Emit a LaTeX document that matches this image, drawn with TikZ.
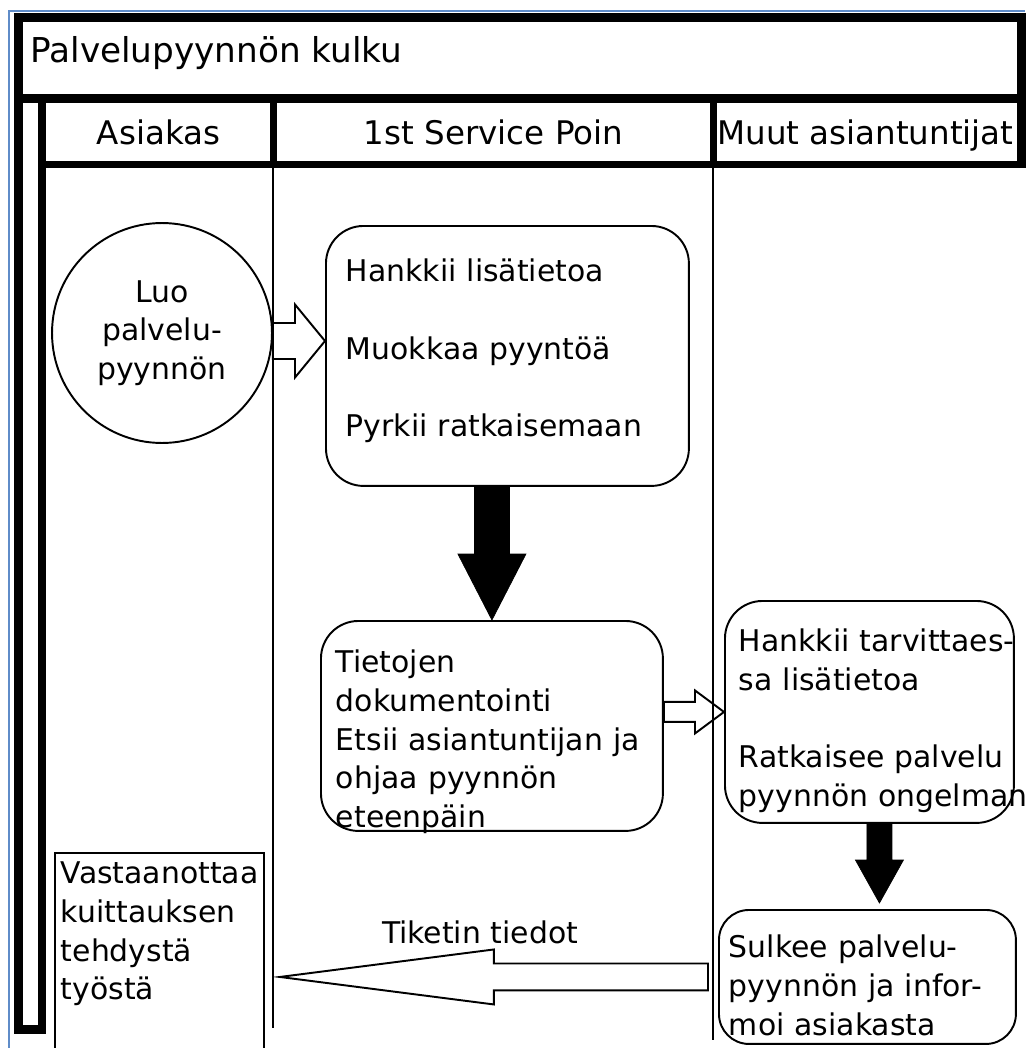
\documentclass[tikz,border=0pt]{standalone}
\usepackage{fontspec}
\setmainfont{DejaVu Sans}
\usetikzlibrary{calc,positioning}
\hyphenpenalty=10000
\exhyphenpenalty=10000
\definecolor{frameblue}{RGB}{95,140,200}
% block arrow: style, from, to, shaft half width, head half width, head length
\def\blockarrow#1#2#3#4#5#6{%
    \draw[#1] ($(#2)!#4!90:(#3)$) -- ($($(#3)!#6!(#2)$)!#4!90:(#3)$)
        -- ($($(#3)!#6!(#2)$)!#5!90:(#3)$) -- (#3)
        -- ($($(#3)!#6!(#2)$)!#5!-90:(#3)$) -- ($($(#3)!#6!(#2)$)!#4!-90:(#3)$)
        -- ($(#2)!#4!-90:(#3)$) -- cycle;}

\begin{document}
\begin{tikzpicture}[x=0.02cm, y=-0.02cm,
    every node/.style={font=\fontsize{17}{22}\selectfont, inner sep=0pt},
    headtext/.style={font=\fontsize{18.5}{22}\selectfont},
    thickframe/.style={line width=0.18cm},
    thinline/.style={line width=1.1pt},
    taskbox/.style={draw, thinline, rounded corners=0.75cm, anchor=north west, align=left, inner ysep=0pt},
    hollowarrow/.style={draw, fill=white, thinline, line join=miter},
    blackarrow/.style={fill=black}]
    \useasboundingbox (0,0) rectangle (1025,1048);
    \draw[frameblue, line width=0.03cm] (9,1048) -- (9,11) -- (1025,11);

    % otsikko ja kaistojen nimet
    \node (otsikko) [anchor=base west, font=\fontsize{19.5}{24}\selectfont] at (30,62) {Palvelupyynnön kulku};
    \node (asiakas) [anchor=base, headtext] at (158.5,144) {Asiakas};
    \node (servicepoint) [anchor=base, headtext] at (493.5,144) {1st Service Poin};
    \node (asiantuntijat) [anchor=base west, headtext] at (717,144) {Muut asiantuntijat};

    % tehtavat
    \node (luo) [circle, draw, thinline, minimum size=4.4cm, align=center] at (162,333) {Luo\\palvelu-\\pyynnön};
    \node (hankkii) [taskbox, inner xsep=0.4cm, text width=6.46cm, text height=1.12cm, text depth=4.08cm] at (325,225)
        {Hankkii lisätietoa\\[22pt]Muokkaa pyyntöä\\[22pt]Pyrkii ratkaisemaan};
    \node (tietojen) [taskbox, inner xsep=0.3cm, text width=6.24cm, text height=1.04cm, text depth=3.16cm] at (320,620)
        {Tietojen\\dokumentointi\\Etsii~asiantuntijan~ja\\ohjaa pyynnön\\eteenpäin};
    \node (muut) [taskbox, inner xsep=0.28cm, text width=5.22cm, text height=1.02cm, text depth=3.42cm] at (724,600)
        {Hankkii~tarvittaes-\\sa lisätietoa\\[22pt]Ratkaisee~palvelu\\pyynnön~ongelman};
    \node (sulkee) [taskbox, rounded corners=0.6cm, inner xsep=0.2cm, text width=5.54cm, text height=0.96cm, text depth=1.72cm] at (718,909)
        {Sulkee~palvelu-\\pyynnön~ja~infor-\\moi~asiakasta};
    \node (vastaanottaa) [taskbox, rounded corners=0pt, inner xsep=0.12cm, text width=3.94cm, text height=0.62cm, text depth=4.36cm] at (54,852)
        {Vastaanottaa\\kuittauksen\\tehdystä\\työstä};
    \node (tiketti) [anchor=base] at (480,943) {Tiketin tiedot};

    % nuolet
    \coordinate (a1s) at ($(luo.east)+(0,8)$);
    \coordinate (a1e) at (a1s -| hankkii.west);
    \coordinate (a2s) at (tietojen.north |- hankkii.south);
    \coordinate (a2e) at (tietojen.north);
    \coordinate (a3s) at (tietojen.east |- muut.west);
    \coordinate (a3e) at (muut.west);
    \coordinate (a4s) at ($(muut.south)+(10,0)$);
    \coordinate (a4e) at ($(a4s |- sulkee.north)+(0,-6)$);
    \coordinate (a5s) at ($(sulkee.west)+(-10,0)$);
    \coordinate (a5e) at ($(a5s -| vastaanottaa.east)+(15,0)$);
    \blockarrow{hollowarrow}{a1s}{a1e}{0.36cm}{0.73cm}{0.6cm}
    \blockarrow{blackarrow}{a2s}{a2e}{0.35cm}{0.68cm}{1.32cm}
    \blockarrow{hollowarrow}{a3s}{a3e}{0.2cm}{0.43cm}{0.58cm}
    \blockarrow{blackarrow}{a4s}{a4e}{0.25cm}{0.48cm}{0.86cm}
    \blockarrow{hollowarrow}{a5s}{a5e}{0.27cm}{0.55cm}{4.28cm}

    % kaistat ja kehys
    \draw[thinline] (273,168) -- (273,1028);
    \draw[thinline] (713,168) -- (713,1040);
    \draw[thickframe] (18.5,17.5) rectangle (1021,98);
    \draw[thickframe] (18.5,98) rectangle (42,1029);
    \draw[line width=0.14cm] (42,164.5) -- (1021,164.5);
    \draw[thickframe] (1021,98) -- (1021,168);
    \draw[line width=0.14cm] (273.5,98) -- (273.5,168);
    \draw[line width=0.14cm] (713.5,98) -- (713.5,168);
\end{tikzpicture}
\end{document}
